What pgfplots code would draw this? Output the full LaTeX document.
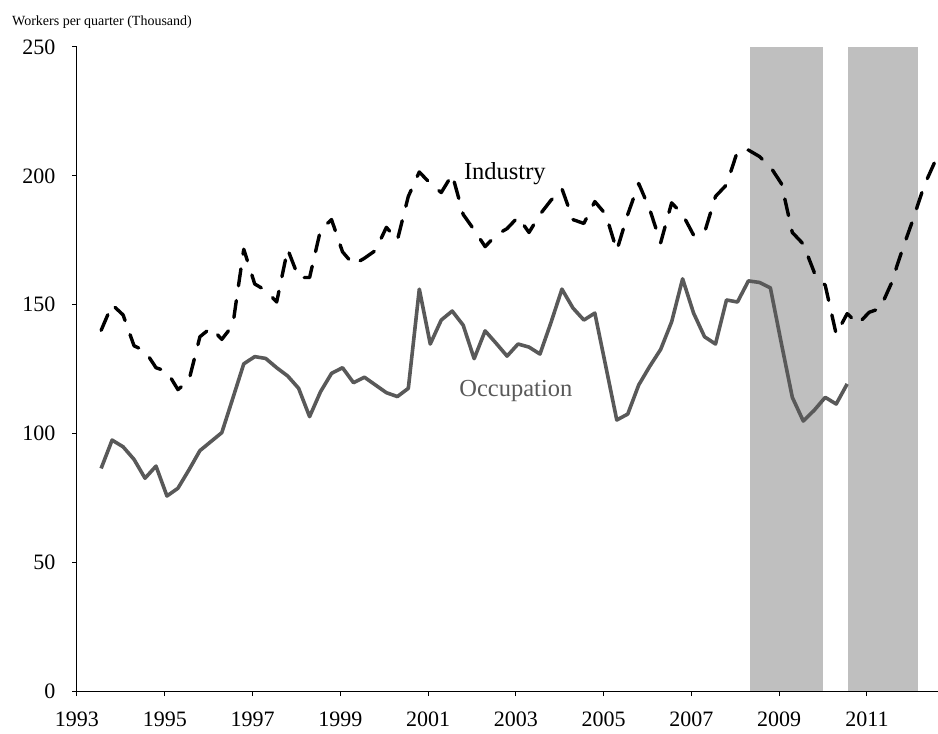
\documentclass[border=0pt]{standalone}
\usepackage{fontspec}
\setmainfont{Liberation Serif}
\usepackage{pgfplots}
\pgfplotsset{compat=1.18}
\usepackage{pgfplotstable}
\definecolor{occ}{HTML}{595959}
\definecolor{shade}{HTML}{BFBFBF}

\pgfplotstableread{
x y
1993.55 86.4
1993.80 97.4
1994.05 94.8
1994.30 89.9
1994.55 82.6
1994.80 87.3
1995.05 75.7
1995.30 78.7
1995.55 85.8
1995.80 93.3
1996.05 96.8
1996.30 100.3
1996.55 113.6
1996.80 127.0
1997.05 129.8
1997.30 129.1
1997.55 125.5
1997.80 122.3
1998.05 117.5
1998.30 106.5
1998.55 116.2
1998.80 123.3
1999.05 125.5
1999.30 119.7
1999.55 121.8
1999.80 118.8
2000.05 115.8
2000.30 114.3
2000.55 117.5
2000.80 156.0
2001.05 134.7
2001.30 144.0
2001.55 147.5
2001.80 142.0
2002.05 129.0
2002.30 139.8
2002.55 135.0
2002.80 130.0
2003.05 134.7
2003.30 133.5
2003.55 130.8
2003.80 143.0
2004.05 156.0
2004.30 148.7
2004.55 144.0
2004.80 146.7
2005.05 126.0
2005.30 105.2
2005.55 107.5
2005.80 118.8
2006.05 126.0
2006.30 132.6
2006.55 143.3
2006.80 160.0
2007.05 146.7
2007.30 137.5
2007.55 134.7
2007.80 151.8
2008.05 151.0
2008.30 159.2
2008.55 158.6
2008.80 156.5
2009.05 135.0
2009.30 114.0
2009.55 104.8
2009.80 109.0
2010.05 114.0
2010.30 111.4
2010.55 119.2
}\occtable

\pgfplotstableread{
x y
1993.55 140.0
1993.80 150.0
1994.05 146.0
1994.30 134.0
1994.55 132.0
1994.80 125.5
1995.05 124.0
1995.30 117.0
1995.55 120.5
1995.80 137.5
1996.05 141.0
1996.30 136.5
1996.55 142.0
1996.80 171.5
1997.05 158.0
1997.30 155.5
1997.55 151.0
1997.80 171.5
1998.05 160.5
1998.30 160.5
1998.55 179.0
1998.80 183.0
1999.05 170.5
1999.30 165.5
1999.55 168.0
1999.80 171.0
2000.05 180.0
2000.30 175.0
2000.55 192.0
2000.80 201.5
2001.05 197.0
2001.30 193.5
2001.55 200.5
2001.80 185.0
2002.05 179.0
2002.30 172.5
2002.55 177.0
2002.80 179.5
2003.05 184.0
2003.30 178.0
2003.55 185.0
2003.80 190.5
2004.05 195.0
2004.30 183.0
2004.55 181.5
2004.80 190.0
2005.05 185.0
2005.30 171.0
2005.55 185.0
2005.80 197.0
2006.05 187.0
2006.30 174.0
2006.55 189.5
2006.80 185.0
2007.05 177.0
2007.30 178.0
2007.55 192.0
2007.80 196.5
2008.05 209.5
2008.30 210.0
2008.55 207.5
2008.80 203.5
2009.05 197.0
2009.30 178.0
2009.55 173.5
2009.80 162.5
2010.05 157.5
2010.30 138.5
2010.55 146.5
2010.80 142.5
2011.05 147.0
2011.30 148.5
2011.55 158.0
2011.80 171.0
2012.05 183.0
2012.30 196.0
2012.55 205.5
}\indtable

\begin{document}
\begin{tikzpicture}
\begin{axis}[
  name=ax,
  scale only axis,
  width=861pt, height=644pt,
  xmin=1993, xmax=2012.62,
  ymin=0, ymax=250,
  axis x line=bottom, axis y line=left,
  axis line style={-, line width=1pt, black},
  axis on top,
  xtick={1993,1995,1997,1999,2001,2003,2005,2007,2009,2011},
  ytick={0,50,100,150,200,250},
  tick align=outside,
  major tick length=5pt,
  tick style={black, line width=1pt},
  xticklabel style={/pgf/number format/1000 sep={}, yshift=-12pt},
  yticklabel style={xshift=-13pt},
  ticklabel style={font=\fontsize{22}{24}\selectfont},
  /pgf/number format/assume math mode=true,
  clip=false,
]
\addplot[draw=none, fill=shade] coordinates {(2008.33,250) (2010.0,250)} \closedcycle;
\addplot[draw=none, fill=shade] coordinates {(2010.58,250) (2012.17,250)} \closedcycle;
\addplot[occ, line width=3.6pt, line join=round] table[x=x,y=y] {\occtable};
\addplot[black, line width=3.4pt, line cap=round, line join=round, dash pattern=on 17pt off 15pt] table[x=x,y=y] {\indtable};
\node[anchor=base, font=\fontsize{24.5}{28}\selectfont] at (axis cs:2002.75,198.4) {Industry};
\node[anchor=base, font=\fontsize{24.5}{28}\selectfont, text=occ] at (axis cs:2003.0,114.5) {Occupation};
\node[anchor=base west, inner sep=0pt, font=\fontsize{14}{16}\selectfont, xshift=-65pt, yshift=21pt] at (rel axis cs:0,1) {Workers per quarter (Thousand)};
\end{axis}
\pgfresetboundingbox
\path ([shift={(-77pt,-42pt)}]ax.south west) rectangle ([shift={(0pt,47pt)}]ax.north east);
\end{tikzpicture}
\end{document}
